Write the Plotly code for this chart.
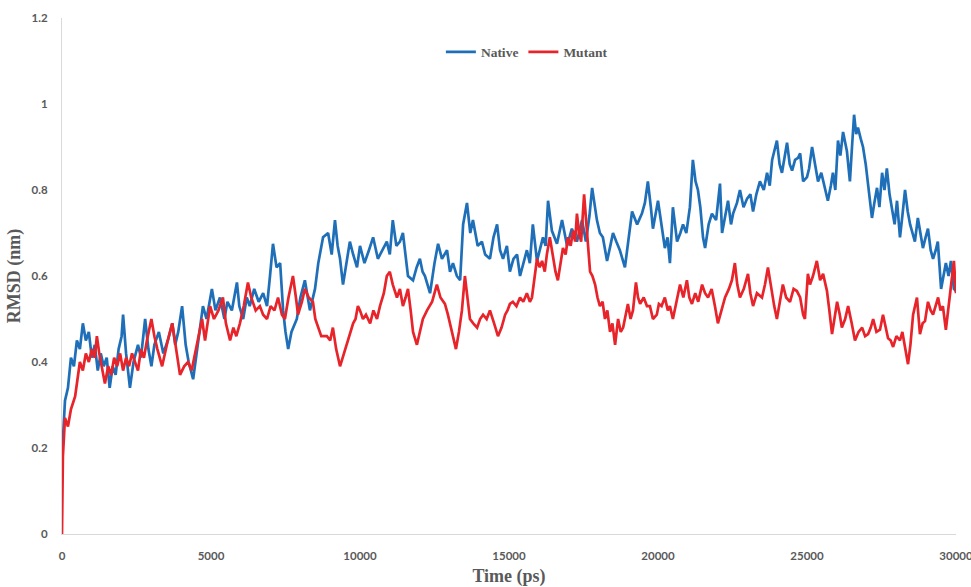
import plotly.graph_objects as go

# RMSD of the native and mutant structures over a 30 ns trajectory (time in ps, RMSD in nm)
native_time = [
    0, 50, 100, 200, 300, 400, 500, 600, 700, 800, 900, 1000, 1100, 1200, 1300, 1400, 1500, 1600,
    1700, 1800, 1900, 2000, 2050, 2150, 2280, 2400, 2550, 2650, 2790, 2900, 3000, 3100, 3250, 3400,
    3550, 3700, 3800, 3900, 4030, 4150, 4250, 4400, 4500, 4600, 4730, 4850, 5030, 5150, 5300, 5450,
    5550, 5700, 5870, 5950, 6080, 6200, 6300, 6450, 6600, 6750, 6880, 6980, 7080, 7200, 7320, 7420,
    7500, 7590, 7700, 7880, 8000, 8150, 8320, 8490, 8600, 8760, 8930, 9050, 9160, 9250, 9330, 9430,
    9550, 9660, 9770, 9900, 10000, 10150, 10300, 10440, 10600, 10740, 10900, 11000, 11100, 11220,
    11340, 11440, 11530, 11610, 11780, 11900, 12010, 12100, 12180, 12350, 12500, 12620, 12750, 12920,
    13020, 13120, 13250, 13360, 13460, 13590, 13700, 13790, 13950, 14090, 14200, 14360, 14480, 14600,
    14700, 14800, 14930, 15030, 15150, 15270, 15370, 15480, 15600, 15700, 15800, 15940, 16040, 16140,
    16230, 16310, 16440, 16610, 16780, 16950, 17110, 17280, 17450, 17580, 17700, 17790, 17950, 18050,
    18150, 18290, 18400, 18490, 18600, 18720, 18890, 19000, 19130, 19300, 19460, 19560, 19660, 19760,
    19830, 20000, 20120, 20230, 20320, 20400, 20500, 20640, 20750, 20840, 20950, 21070, 21170, 21260,
    21340, 21420, 21510, 21580, 21700, 21810, 21950, 22080, 22150, 22250, 22350, 22450, 22520, 22650,
    22750, 22870, 22990, 23100, 23190, 23300, 23420, 23550, 23660, 23750, 23830, 23990, 24080, 24160,
    24250, 24330, 24420, 24500, 24600, 24700, 24770, 24870, 25000, 25070, 25170, 25280, 25370, 25480,
    25600, 25700, 25800, 25870, 25950, 26040, 26120, 26210, 26340, 26440, 26510, 26580, 26650, 26710,
    26800, 26880, 26970, 27050, 27120, 27180, 27260, 27350, 27430, 27520, 27600, 27680, 27770, 27850,
    27940, 28020, 28120, 28200, 28290, 28380, 28460, 28540, 28620, 28720, 28800, 28890, 28980, 29060,
    29150, 29230, 29320, 29390, 29450, 29500, 29580, 29660, 29750, 29830, 29930, 30000,
]
native_rmsd = [
    0.18, 0.26, 0.31, 0.34, 0.41, 0.39, 0.45, 0.43, 0.49, 0.45, 0.47, 0.41, 0.44, 0.38, 0.42, 0.39,
    0.41, 0.34, 0.39, 0.37, 0.43, 0.46, 0.51, 0.42, 0.34, 0.40, 0.44, 0.41, 0.50, 0.43, 0.39, 0.44,
    0.47, 0.42, 0.45, 0.49, 0.44, 0.47, 0.53, 0.44, 0.40, 0.36, 0.41, 0.47, 0.53, 0.50, 0.57, 0.52,
    0.55, 0.50, 0.54, 0.52, 0.585, 0.53, 0.50, 0.55, 0.53, 0.57, 0.54, 0.56, 0.53, 0.60, 0.675, 0.62,
    0.63, 0.52, 0.47, 0.43, 0.47, 0.50, 0.55, 0.59, 0.52, 0.57, 0.63, 0.69, 0.70, 0.65, 0.73, 0.67,
    0.64, 0.58, 0.63, 0.68, 0.65, 0.62, 0.67, 0.63, 0.66, 0.69, 0.64, 0.66, 0.68, 0.65, 0.73, 0.67,
    0.68, 0.70, 0.64, 0.60, 0.59, 0.62, 0.64, 0.61, 0.60, 0.56, 0.63, 0.675, 0.64, 0.66, 0.61, 0.63,
    0.60, 0.59, 0.72, 0.77, 0.70, 0.73, 0.67, 0.68, 0.65, 0.64, 0.69, 0.72, 0.66, 0.64, 0.67, 0.61,
    0.64, 0.65, 0.60, 0.63, 0.66, 0.63, 0.72, 0.635, 0.66, 0.69, 0.67, 0.775, 0.705, 0.675, 0.73,
    0.67, 0.71, 0.68, 0.73, 0.68, 0.74, 0.805, 0.73, 0.70, 0.69, 0.635, 0.67, 0.70, 0.68, 0.66, 0.62,
    0.68, 0.75, 0.72, 0.745, 0.77, 0.82, 0.76, 0.71, 0.775, 0.72, 0.665, 0.69, 0.63, 0.76, 0.68,
    0.70, 0.72, 0.70, 0.76, 0.87, 0.82, 0.80, 0.76, 0.69, 0.665, 0.72, 0.745, 0.73, 0.815, 0.70,
    0.74, 0.775, 0.72, 0.745, 0.77, 0.80, 0.76, 0.78, 0.79, 0.75, 0.79, 0.82, 0.80, 0.84, 0.81, 0.87,
    0.915, 0.86, 0.84, 0.88, 0.91, 0.86, 0.845, 0.87, 0.875, 0.885, 0.82, 0.83, 0.85, 0.90, 0.85,
    0.82, 0.84, 0.80, 0.775, 0.81, 0.84, 0.80, 0.915, 0.88, 0.935, 0.89, 0.82, 0.90, 0.975, 0.93,
    0.945, 0.92, 0.90, 0.86, 0.815, 0.78, 0.735, 0.77, 0.805, 0.76, 0.84, 0.80, 0.85, 0.79, 0.76,
    0.72, 0.775, 0.69, 0.74, 0.80, 0.75, 0.72, 0.70, 0.68, 0.735, 0.70, 0.665, 0.69, 0.71, 0.66, 0.64,
    0.66, 0.68, 0.62, 0.57, 0.60, 0.63, 0.60, 0.635, 0.57, 0.565,
]

mutant_time = [
    0, 30, 100, 200, 300, 440, 520, 600, 700, 800, 900, 1000, 1100, 1170, 1250, 1350, 1440, 1550,
    1650, 1750, 1850, 1950, 2050, 2150, 2250, 2350, 2450, 2550, 2650, 2750, 2850, 3000, 3100, 3200,
    3360, 3450, 3550, 3700, 3800, 3960, 4100, 4230, 4350, 4500, 4600, 4700, 4800, 4970, 5100, 5250,
    5400, 5500, 5640, 5750, 5850, 5970, 6100, 6240, 6350, 6500, 6640, 6750, 6880, 7000, 7130, 7250,
    7380, 7480, 7600, 7750, 7850, 7920, 8050, 8150, 8280, 8420, 8500, 8590, 8700, 8890, 9000, 9090,
    9200, 9330, 9420, 9500, 9650, 9770, 9850, 9930, 10000, 10100, 10200, 10340, 10450, 10570, 10670,
    10800, 10900, 11000, 11100, 11240, 11340, 11440, 11530, 11610, 11700, 11780, 11910, 12010, 12110,
    12250, 12420, 12500, 12580, 12700, 12850, 12950, 13020, 13120, 13220, 13320, 13420, 13520, 13600,
    13690, 13800, 13930, 14030, 14130, 14250, 14360, 14500, 14630, 14750, 14870, 14950, 15030, 15130,
    15250, 15370, 15480, 15600, 15700, 15770, 15870, 15940, 16030, 16110, 16200, 16270, 16370, 16480,
    16560, 16640, 16730, 16810, 16900, 16980, 17070, 17150, 17220, 17280, 17350, 17420, 17520, 17620,
    17720, 17800, 17890, 17970, 18050, 18140, 18220, 18300, 18390, 18470, 18560, 18660, 18750, 18830,
    18910, 18990, 19080, 19160, 19260, 19330, 19400, 19520, 19630, 19730, 19830, 19960, 20030, 20120,
    20230, 20330, 20400, 20500, 20620, 20740, 20850, 20970, 21050, 21140, 21250, 21350, 21480, 21580,
    21680, 21800, 21910, 22010, 22130, 22250, 22380, 22480, 22580, 22660, 22750, 22880, 23020, 23100,
    23190, 23320, 23490, 23590, 23690, 23800, 23900, 23990, 24100, 24190, 24300, 24430, 24550, 24660,
    24770, 24870, 24930, 25030, 25100, 25200, 25330, 25440, 25540, 25670, 25750, 25840, 25920, 26010,
    26100, 26170, 26280, 26380, 26500, 26610, 26730, 26850, 26950, 27050, 27140, 27220, 27330, 27450,
    27550, 27630, 27720, 27810, 27890, 28000, 28120, 28200, 28290, 28390, 28470, 28560, 28690, 28790,
    28880, 28960, 29060, 29150, 29230, 29320, 29400, 29480, 29560, 29660, 29730, 29800, 29870, 29930,
    30000,
]
mutant_rmsd = [
    0.0, 0.18, 0.27, 0.25, 0.29, 0.32, 0.36, 0.40, 0.38, 0.42, 0.40, 0.43, 0.41, 0.46, 0.42, 0.38,
    0.35, 0.39, 0.37, 0.41, 0.39, 0.42, 0.38, 0.41, 0.39, 0.42, 0.40, 0.38, 0.43, 0.41, 0.45, 0.50,
    0.46, 0.43, 0.39, 0.42, 0.45, 0.49, 0.44, 0.37, 0.39, 0.40, 0.38, 0.43, 0.46, 0.50, 0.45, 0.53,
    0.50, 0.52, 0.55, 0.49, 0.45, 0.48, 0.46, 0.49, 0.53, 0.585, 0.55, 0.52, 0.53, 0.51, 0.50, 0.53,
    0.52, 0.55, 0.51, 0.50, 0.55, 0.60, 0.55, 0.51, 0.54, 0.57, 0.55, 0.54, 0.50, 0.48, 0.46, 0.46,
    0.45, 0.48, 0.43, 0.39, 0.41, 0.43, 0.46, 0.49, 0.50, 0.53, 0.52, 0.50, 0.51, 0.49, 0.52, 0.50,
    0.53, 0.56, 0.60, 0.61, 0.58, 0.55, 0.57, 0.53, 0.55, 0.57, 0.52, 0.47, 0.44, 0.47, 0.50, 0.52,
    0.54, 0.56, 0.58, 0.55, 0.535, 0.51, 0.49, 0.46, 0.43, 0.47, 0.52, 0.60, 0.55, 0.50, 0.49, 0.48,
    0.50, 0.51, 0.50, 0.52, 0.49, 0.46, 0.48, 0.51, 0.52, 0.535, 0.54, 0.53, 0.55, 0.54, 0.56, 0.54,
    0.55, 0.60, 0.64, 0.62, 0.635, 0.61, 0.65, 0.69, 0.645, 0.61, 0.59, 0.63, 0.665, 0.65, 0.69,
    0.67, 0.705, 0.68, 0.745, 0.70, 0.68, 0.79, 0.69, 0.61, 0.60, 0.58, 0.55, 0.53, 0.54, 0.50, 0.52,
    0.47, 0.49, 0.44, 0.50, 0.47, 0.48, 0.51, 0.535, 0.50, 0.52, 0.585, 0.55, 0.535, 0.55, 0.53,
    0.53, 0.50, 0.51, 0.535, 0.53, 0.55, 0.52, 0.53, 0.50, 0.54, 0.58, 0.55, 0.59, 0.55, 0.535, 0.56,
    0.54, 0.58, 0.56, 0.55, 0.57, 0.53, 0.49, 0.52, 0.55, 0.57, 0.59, 0.63, 0.58, 0.55, 0.57, 0.605,
    0.56, 0.53, 0.56, 0.55, 0.58, 0.62, 0.57, 0.53, 0.50, 0.54, 0.58, 0.55, 0.54, 0.57, 0.565, 0.55,
    0.51, 0.50, 0.605, 0.58, 0.60, 0.635, 0.59, 0.605, 0.565, 0.52, 0.465, 0.50, 0.54, 0.51, 0.48,
    0.50, 0.53, 0.49, 0.45, 0.47, 0.48, 0.46, 0.465, 0.48, 0.50, 0.47, 0.475, 0.51, 0.48, 0.455,
    0.45, 0.435, 0.46, 0.45, 0.47, 0.435, 0.395, 0.44, 0.51, 0.55, 0.465, 0.49, 0.495, 0.54, 0.52,
    0.51, 0.53, 0.55, 0.52, 0.53, 0.475, 0.52, 0.57, 0.60, 0.635, 0.56,
]

x_ticks = [0, 5000, 10000, 15000, 20000, 25000, 30000]
y_ticks = [0, 0.2, 0.4, 0.6, 0.8, 1.0, 1.2]

NATIVE_COLOR = "#1f6fb8"
MUTANT_COLOR = "#e8242b"
TEXT_GRAY = "#595959"
AXIS_GRAY = "#d9d9d9"

fig = go.Figure()
fig.add_trace(go.Scatter(
    x=native_time, y=native_rmsd, mode="lines", name="Native",
    line=dict(color=NATIVE_COLOR, width=2.7),
))
fig.add_trace(go.Scatter(
    x=mutant_time, y=mutant_rmsd, mode="lines", name="Mutant",
    line=dict(color=MUTANT_COLOR, width=2.7),
))

tick_font = dict(family="Lato, 'Open Sans', sans-serif", size=11.5, color=TEXT_GRAY, weight="bold")
title_font = dict(family="'Liberation Serif', 'Times New Roman', serif", size=18, color=TEXT_GRAY, weight="bold")

fig.update_layout(
    width=971, height=587,
    margin=dict(l=62, r=15, t=18, b=53),
    paper_bgcolor="white", plot_bgcolor="white",
    showlegend=True,
    legend=dict(
        orientation="h", x=0.52, y=0.934, xanchor="center", yanchor="middle",
        font=dict(family="'Liberation Serif', 'Times New Roman', serif", size=13.5,
                  color=TEXT_GRAY, weight="bold"),
        bgcolor="rgba(0,0,0,0)", itemwidth=30, tracegroupgap=0,
    ),
    xaxis=dict(
        range=[0, 30000], tickvals=x_ticks, ticktext=[str(v) for v in x_ticks],
        showgrid=False, zeroline=False, showline=True, linecolor=AXIS_GRAY, linewidth=1,
        ticks="", tickfont=tick_font, ticklabelstandoff=11, ticklabeloverflow="allow",
        title=dict(text="Time (ps)", font=title_font, standoff=10),
        automargin=False,
    ),
    yaxis=dict(
        range=[0, 1.2], tickvals=y_ticks, ticktext=["0", "0.2", "0.4", "0.6", "0.8", "1", "1.2"],
        showgrid=False, zeroline=False, showline=True, linecolor=AXIS_GRAY, linewidth=1,
        ticks="", tickfont=tick_font, ticklabelstandoff=11,
        title=dict(text="RMSD (nm)", font=title_font, standoff=6),
        automargin=False,
    ),
)

fig.write_html("out.html")
